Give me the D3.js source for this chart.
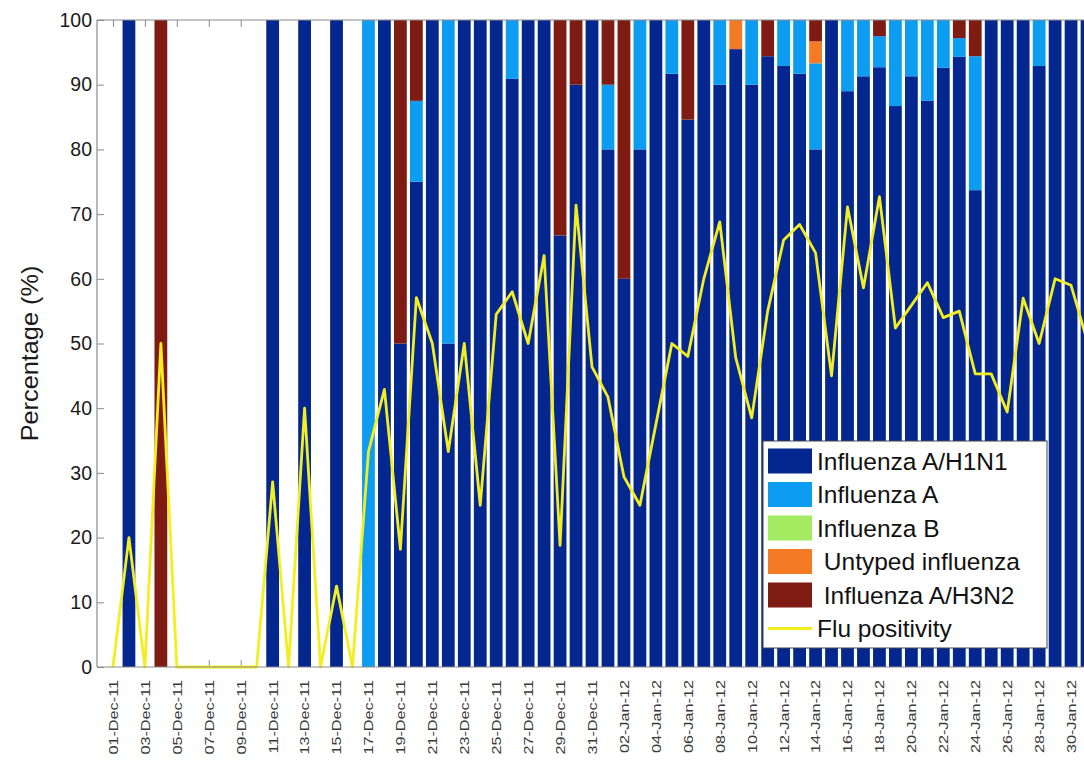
<!DOCTYPE html>
<html>
<head>
<meta charset="utf-8">
<script src="https://cdn.jsdelivr.net/npm/d3@7"></script>
<style>
  html, body { margin: 0; padding: 0; background: #fff; }
  svg { display: block; font-family: "Liberation Sans", Arial, Helvetica, sans-serif; }
</style>
</head>
<body>
<svg id="chart" width="1084" height="760"></svg>
<script>
// Daily surveillance, 01-Dec-2011 to 31-Jan-2012 (day 1 .. day 62)
const dayCount = 62;

const tickLabels = [
  "01-Dec-11", "03-Dec-11", "05-Dec-11", "07-Dec-11", "09-Dec-11", "11-Dec-11",
  "13-Dec-11", "15-Dec-11", "17-Dec-11", "19-Dec-11", "21-Dec-11", "23-Dec-11",
  "25-Dec-11", "27-Dec-11", "29-Dec-11", "31-Dec-11", "02-Jan-12", "04-Jan-12",
  "06-Jan-12", "08-Jan-12", "10-Jan-12", "12-Jan-12", "14-Jan-12", "16-Jan-12",
  "18-Jan-12", "20-Jan-12", "22-Jan-12", "24-Jan-12", "26-Jan-12", "28-Jan-12",
  "30-Jan-12"
];
// day index of each labelled tick
const tickDays = [1, 3, 5, 7, 9, 11, 13, 15, 17, 19, 21, 23, 25, 27, 29, 31,
  33, 35, 37, 39, 41, 43, 45, 47, 49, 51, 53, 55, 57, 59, 61];

// share of positive samples by subtype (%), one value per day
const h1n1 = [
  0, 100, 0, 0, 0, 0, 0, 0, 0, 0,
  100, 0, 100, 0, 100, 0, 0, 100, 50, 75,
  100, 50, 100, 100, 100, 90.9, 100, 100, 66.7, 90,
  100, 80, 60, 80, 100, 91.7, 84.6, 100, 90, 95.5,
  90, 94.4, 92.9, 91.7, 80, 100, 89, 91.3, 92.7, 86.7,
  91.3, 87.5, 92.6, 94.3, 73.7, 100, 100, 100, 92.9, 100,
  100, 100
];
const fluA = [
  0, 0, 0, 0, 0, 0, 0, 0, 0, 0,
  0, 0, 0, 0, 0, 0, 100, 0, 0, 12.5,
  0, 50, 0, 0, 0, 9.1, 0, 0, 0, 0,
  0, 10, 0, 20, 0, 8.3, 0, 0, 10, 0,
  10, 0, 7.1, 8.3, 13.3, 0, 11, 8.7, 4.8, 13.3,
  8.7, 12.5, 7.4, 2.9, 20.7, 0, 0, 0, 7.1, 0,
  0, 0
];
const fluB = [
  0, 0, 0, 0, 0, 0, 0, 0, 0, 0,
  0, 0, 0, 0, 0, 0, 0, 0, 0, 0,
  0, 0, 0, 0, 0, 0, 0, 0, 0, 0,
  0, 0, 0, 0, 0, 0, 0, 0, 0, 0,
  0, 0, 0, 0, 0, 0, 0, 0, 0, 0,
  0, 0, 0, 0, 0, 0, 0, 0, 0, 0,
  0, 0
];
const untyped = [
  0, 0, 0, 0, 0, 0, 0, 0, 0, 0,
  0, 0, 0, 0, 0, 0, 0, 0, 0, 0,
  0, 0, 0, 0, 0, 0, 0, 0, 0, 0,
  0, 0, 0, 0, 0, 0, 0, 0, 0, 4.5,
  0, 0, 0, 0, 3.4, 0, 0, 0, 0, 0,
  0, 0, 0, 0, 0, 0, 0, 0, 0, 0,
  0, 0
];
const h3n2 = [
  0, 0, 0, 100, 0, 0, 0, 0, 0, 0,
  0, 0, 0, 0, 0, 0, 0, 0, 50, 12.5,
  0, 0, 0, 0, 0, 0, 0, 0, 33.3, 10,
  0, 10, 40, 0, 0, 0, 15.4, 0, 0, 0,
  0, 5.6, 0, 0, 3.3, 0, 0, 0, 2.5, 0,
  0, 0, 0, 2.8, 5.6, 0, 0, 0, 0, 0,
  0, 0
];
// percentage of tested samples that were flu positive
const positivity = [
  0, 20, 0, 50, 0, 0, 0, 0, 0, 0,
  28.6, 0, 40, 0, 12.5, 0, 33.3, 42.9, 18.2, 57.1,
  50, 33.3, 50, 25, 54.5, 58, 50, 63.6, 18.8, 71.4,
  46.4, 41.7, 29.4, 25, 37.5, 50, 48, 60, 68.8, 47.8,
  38.5, 55, 66, 68.4, 64, 45, 71.1, 58.6, 72.7, 52.4,
  55.9, 59.4, 54, 55, 45.3, 45.3, 39.4, 57, 50, 60,
  59, 50.5
];

const seriesNames = ["Influenza A/H1N1", "Influenza A", "Influenza B", " Untyped influenza", " Influenza A/H3N2"];
const seriesColors = ["#04268f", "#0c9cf2", "#a3ec62", "#f57a25", "#7e1b12"];
const lineName = "Flu positivity";
const lineColor = "#f3ef1f";
const yTicks = [0, 10, 20, 30, 40, 50, 60, 70, 80, 90, 100];

const seriesData = [h1n1, fluA, fluB, untyped, h3n2];
const keys = ["h1n1", "fluA", "fluB", "untyped", "h3n2"];
const rows = d3.range(dayCount).map(i => {
  const r = { day: i + 1 };
  keys.forEach((k, j) => { r[k] = seriesData[j][i]; });
  return r;
});

const svg = d3.select("#chart");
const plot = { left: 97, top: 20, bottom: 667, right: 1103 };

const x = d3.scaleLinear().domain([0, dayCount + 1]).range([plot.left, plot.right]);
const y = d3.scaleLinear().domain([0, 100]).range([plot.bottom, plot.top]);
const barW = 0.8 * (x(1) - x(0));

// axis ticks (drawn inward, under the bars)
const gx = svg.append("g")
  .attr("transform", `translate(0,${plot.bottom})`)
  .call(d3.axisBottom(x).tickValues(tickDays).tickSize(-7)
    .tickFormat((d, i) => tickLabels[i]));
gx.select(".domain").remove();
gx.selectAll(".tick line").attr("stroke", "#8a8a8a");
gx.selectAll(".tick text")
  .attr("x", 0).attr("y", 0).attr("dy", "0.35em")
  .attr("text-anchor", "end")
  .attr("transform", "translate(0,13) rotate(-90) scale(1.3,1)")
  .attr("font-size", 12.5)
  .attr("fill", "#3a3a3a");

const gxTop = svg.append("g")
  .attr("transform", `translate(0,${plot.top})`)
  .call(d3.axisTop(x).tickValues(tickDays).tickSize(-7).tickFormat(""));
gxTop.select(".domain").remove();
gxTop.selectAll(".tick line").attr("stroke", "#8a8a8a");

const gy = svg.append("g")
  .attr("transform", `translate(${plot.left},0)`)
  .call(d3.axisLeft(y).tickValues(yTicks).tickSize(-7).tickPadding(5));
gy.select(".domain").remove();
gy.selectAll(".tick line").attr("stroke", "#8a8a8a");
gy.selectAll(".tick text").attr("font-size", 19.5).attr("fill", "#1a1a1a");

// stacked bars
const stacked = d3.stack().keys(keys)(rows);
svg.append("g").selectAll("g")
  .data(stacked)
  .join("g")
  .attr("fill", (d, i) => seriesColors[i])
  .selectAll("rect")
  .data(d => d.filter(s => s[1] - s[0] > 0))
  .join("rect")
  .attr("x", s => x(s.data.day) - barW / 2)
  .attr("width", barW)
  .attr("y", s => y(s[1]))
  .attr("height", s => y(s[0]) - y(s[1]));

// positivity line
svg.append("path")
  .datum(positivity)
  .attr("fill", "none")
  .attr("stroke", lineColor)
  .attr("stroke-width", 2.8)
  .attr("stroke-linejoin", "round")
  .attr("d", d3.line().x((d, i) => x(i + 1)).y(d => y(d)));

// axes box
svg.append("g")
  .attr("stroke", "#8a8a8a").attr("stroke-width", 1.2).attr("fill", "none")
  .call(g => {
    g.append("line").attr("x1", plot.left).attr("x2", plot.right).attr("y1", plot.top).attr("y2", plot.top);
    g.append("line").attr("x1", plot.left).attr("x2", plot.right).attr("y1", plot.bottom).attr("y2", plot.bottom);
    g.append("line").attr("x1", plot.left).attr("x2", plot.left).attr("y1", plot.top).attr("y2", plot.bottom);
  });

// y-axis title
svg.append("text")
  .attr("transform", `translate(30,${(plot.top + plot.bottom) / 2 + 10}) rotate(-90) scale(1.1,1)`)
  .attr("text-anchor", "middle")
  .attr("dy", "0.35em")
  .attr("font-size", 23)
  .attr("fill", "#1a1a1a")
  .text("Percentage (%)");

// legend
const legend = svg.append("g").attr("transform", "translate(763,441)");
legend.append("rect")
  .attr("width", 284).attr("height", 207)
  .attr("fill", "#fff").attr("stroke", "#444").attr("stroke-width", 1);
const rowH = 33.5;
seriesNames.forEach((name, i) => {
  const cy = 20 + i * rowH;
  legend.append("rect")
    .attr("x", 5).attr("y", cy - 12.5).attr("width", 44).attr("height", 25)
    .attr("fill", seriesColors[i]);
  legend.append("text")
    .attr("x", 54).attr("y", cy).attr("dy", "0.35em")
    .attr("font-size", 24.5).attr("fill", "#111")
    .attr("xml:space", "preserve")
    .style("white-space", "pre")
    .text(name);
});
{
  const cy = 20 + seriesNames.length * rowH;
  legend.append("line")
    .attr("x1", 5).attr("x2", 49).attr("y1", cy).attr("y2", cy)
    .attr("stroke", lineColor).attr("stroke-width", 3);
  legend.append("text")
    .attr("x", 54).attr("y", cy).attr("dy", "0.35em")
    .attr("font-size", 24.5).attr("fill", "#111")
    .text(lineName);
}
</script>
</body>
</html>
